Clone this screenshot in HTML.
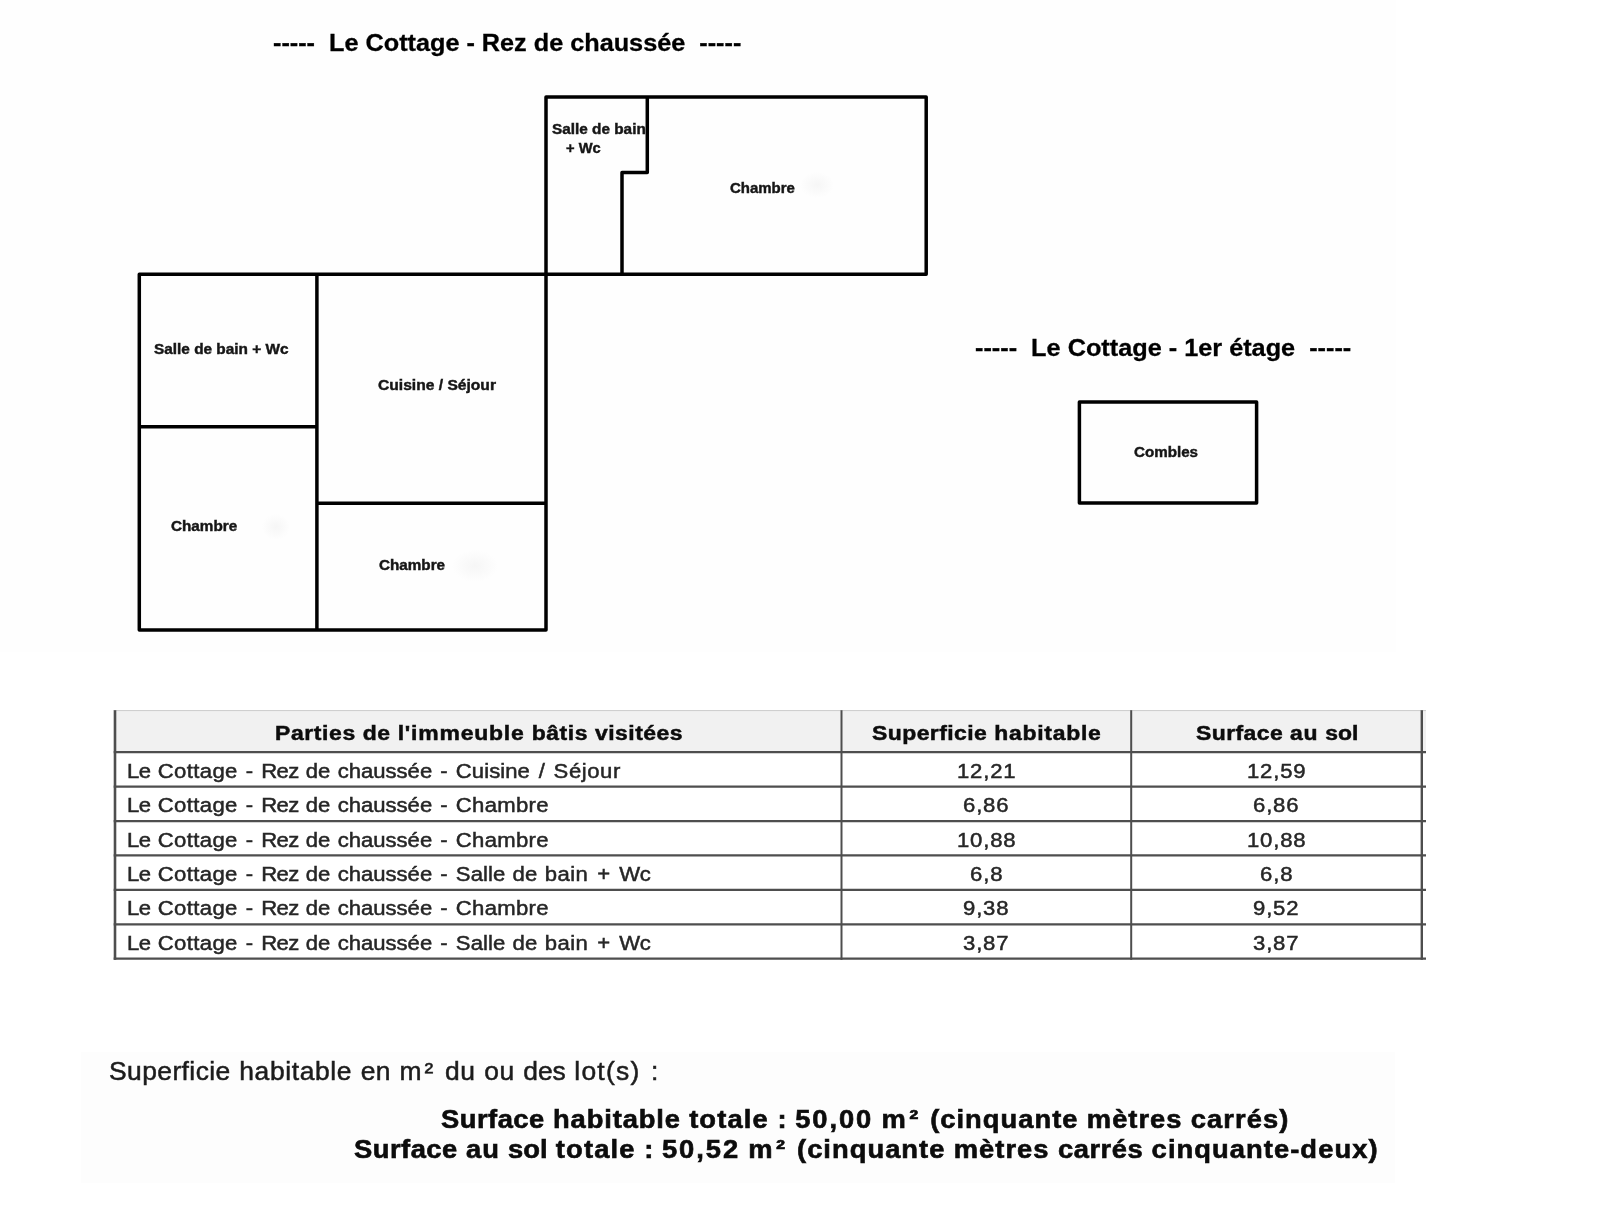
<!DOCTYPE html>
<html lang="fr"><head><meta charset="utf-8"><title>Le Cottage - Plan et superficies</title>
<style>
html,body{margin:0;padding:0;background:#fff;}
body{width:1600px;height:1230px;position:relative;overflow:hidden;font-family:"Liberation Sans",sans-serif;color:#000;font-kerning:none;}
#sheet{position:absolute;left:0;top:0;width:1600px;height:1230px;filter:blur(0.35px);will-change:transform;}
.t{position:absolute;white-space:pre;line-height:1;transform-origin:0 0;}
.b{position:absolute;}
.g{position:absolute;background:radial-gradient(closest-side,#f6f6f6,rgba(255,255,255,0));}
.plan{position:absolute;left:0;top:0;}
</style></head><body><div id="sheet">
<div class="b" style="left:0.00px;top:0.00px;width:1396.00px;height:652.00px;background:#fefefe"></div>
<div class="b" style="left:81.00px;top:1052.00px;width:1314.00px;height:131.00px;background:#fdfdfd"></div>
<svg class="plan" width="1600" height="700" viewBox="0 0 1600 700">
<g fill="none" stroke="#000" stroke-width="3.5" stroke-linecap="butt" stroke-linejoin="round">
<path d="M546 630 L546 96.9 L926.2 96.9 L926.2 274.3 L139.3 274.3 L139.3 630 Z"/>
<path d="M647.3 96.9 L647.3 172.5 L622 172.5 L622 274.3"/>
<path d="M316.9 274.3 L316.9 630"/>
<path d="M139.3 426.7 L316.9 426.7"/>
<path d="M316.9 503.3 L546 503.3"/>
<rect x="1079.4" y="401.9" width="177.2" height="101"/>
</g>
</svg>
<div class="g" style="left:452px;top:550px;width:46px;height:32px"></div>
<div class="g" style="left:262px;top:514px;width:28px;height:26px"></div>
<div class="g" style="left:800px;top:172px;width:34px;height:26px"></div>
<svg class="plan" width="1600" height="1230" viewBox="0 0 1600 1230">
<rect x="113.7" y="710.2" width="1312.3" height="42" fill="#f1f1f1"/>
<line x1="113.7" y1="710.6" x2="1426.0" y2="710.6" stroke="#cdcdcd" stroke-width="1"/>
<g stroke="#4e4e4e" fill="none">
<line x1="113.7" y1="752.20" x2="1426.0" y2="752.20" stroke-width="2.2"/>
<line x1="113.7" y1="786.62" x2="1426.0" y2="786.62" stroke-width="2.2"/>
<line x1="113.7" y1="821.04" x2="1426.0" y2="821.04" stroke-width="2.2"/>
<line x1="113.7" y1="855.46" x2="1426.0" y2="855.46" stroke-width="2.2"/>
<line x1="113.7" y1="889.88" x2="1426.0" y2="889.88" stroke-width="2.2"/>
<line x1="113.7" y1="924.30" x2="1426.0" y2="924.30" stroke-width="2.2"/>
<line x1="113.7" y1="958.72" x2="1426.0" y2="958.72" stroke-width="2.2"/>
<line x1="115.0" y1="710.2" x2="115.0" y2="959.82" stroke-width="2.6"/>
<line x1="841.5" y1="710.2" x2="841.5" y2="959.82" stroke-width="2.0"/>
<line x1="1131.2" y1="710.2" x2="1131.2" y2="959.82" stroke-width="2.0"/>
<line x1="1421.8" y1="710.2" x2="1421.8" y2="959.82" stroke-width="2.4"/>
</g></svg>
<span class="t" style="left:273.10px;top:31.47px;font-size:24.60px;font-weight:bold;transform:scaleX(1.0261);-webkit-text-stroke:0.3px #000;">-----  Le Cottage - Rez de chaussée  -----</span>
<span class="t" style="left:974.80px;top:335.97px;font-size:24.60px;font-weight:bold;transform:scaleX(1.0276);-webkit-text-stroke:0.3px #000;">-----  Le Cottage - 1er étage  -----</span>
<span class="t" style="left:551.60px;top:121.30px;font-size:15.00px;font-weight:bold;transform:scaleX(1.0226);color:#161616;-webkit-text-stroke:0.45px #161616;">Salle de bain</span>
<span class="t" style="left:566.10px;top:139.80px;font-size:15.00px;font-weight:bold;transform:scaleX(0.9784);color:#161616;-webkit-text-stroke:0.45px #161616;">+ Wc</span>
<span class="t" style="left:730.00px;top:180.00px;font-size:15.00px;font-weight:bold;transform:scaleX(0.9982);color:#161616;-webkit-text-stroke:0.45px #161616;">Chambre</span>
<span class="t" style="left:153.90px;top:340.80px;font-size:15.00px;font-weight:bold;transform:scaleX(1.0246);color:#161616;-webkit-text-stroke:0.45px #161616;">Salle de bain + Wc</span>
<span class="t" style="left:378.00px;top:376.80px;font-size:15.00px;font-weight:bold;transform:scaleX(1.0407);color:#161616;-webkit-text-stroke:0.45px #161616;">Cuisine / Séjour</span>
<span class="t" style="left:171.10px;top:517.70px;font-size:15.00px;font-weight:bold;transform:scaleX(1.0175);color:#161616;-webkit-text-stroke:0.45px #161616;">Chambre</span>
<span class="t" style="left:378.50px;top:557.30px;font-size:15.00px;font-weight:bold;transform:scaleX(1.0157);color:#161616;-webkit-text-stroke:0.45px #161616;">Chambre</span>
<span class="t" style="left:1133.60px;top:444.10px;font-size:15.00px;font-weight:bold;transform:scaleX(1.0112);color:#161616;-webkit-text-stroke:0.45px #161616;">Combles</span>
<span class="t" style="left:274.70px;top:722.07px;font-size:21.06px;font-weight:bold;transform:scaleX(1.0900);color:#0c0c0c;-webkit-text-stroke:0.5px #0c0c0c;word-spacing:0.0266em;"><span style="letter-spacing:0.0265em">Parties</span> <span style="letter-spacing:0.0236em">de</span> <span style="letter-spacing:0.0351em">l'immeuble</span> <span style="letter-spacing:0.0245em">bâtis</span> <span style="letter-spacing:0.0205em">visitées</span></span>
<span class="t" style="left:872.00px;top:722.07px;font-size:21.06px;font-weight:bold;transform:scaleX(1.0900);color:#0c0c0c;-webkit-text-stroke:0.5px #0c0c0c;word-spacing:0.0266em;"><span style="letter-spacing:0.0189em">Superficie</span> <span style="letter-spacing:0.0318em">habitable</span></span>
<span class="t" style="left:1195.60px;top:722.07px;font-size:21.06px;font-weight:bold;transform:scaleX(1.0900);color:#0c0c0c;-webkit-text-stroke:0.5px #0c0c0c;word-spacing:0.0266em;"><span style="letter-spacing:0.0183em">Surface</span> <span style="letter-spacing:0.0313em">au</span> <span style="letter-spacing:-0.0002em">sol</span></span>
<span class="t" style="left:126.80px;top:759.77px;font-size:21.06px;transform:scaleX(1.0500);color:#262626;-webkit-text-stroke:0.5px #262626;word-spacing:0.0472em;"><span style="letter-spacing:-0.0234em">Le</span> <span style="letter-spacing:0.0164em">Cottage</span> <span style="margin:0 0.0434em">-</span> <span style="letter-spacing:-0.0329em">Rez</span> <span style="letter-spacing:0.0073em">de</span> <span style="letter-spacing:-0.0011em">chaussée</span> <span style="margin:0 0.0434em">-</span> <span style="letter-spacing:0.0030em">Cuisine</span> <span style="margin:0 0.0710em">/</span> <span style="letter-spacing:0.0252em">Séjour</span></span>
<span class="t" style="left:957.30px;top:759.77px;font-size:21.06px;transform:scaleX(1.0500);color:#262626;-webkit-text-stroke:0.5px #262626;word-spacing:0.0472em;"><span style="letter-spacing:0.0370em">12,21</span></span>
<span class="t" style="left:1246.60px;top:759.77px;font-size:21.06px;transform:scaleX(1.0500);color:#262626;-webkit-text-stroke:0.5px #262626;word-spacing:0.0472em;"><span style="letter-spacing:0.0370em">12,59</span></span>
<span class="t" style="left:126.80px;top:794.19px;font-size:21.06px;transform:scaleX(1.0500);color:#262626;-webkit-text-stroke:0.5px #262626;word-spacing:0.0472em;"><span style="letter-spacing:-0.0234em">Le</span> <span style="letter-spacing:0.0164em">Cottage</span> <span style="margin:0 0.0434em">-</span> <span style="letter-spacing:-0.0329em">Rez</span> <span style="letter-spacing:0.0073em">de</span> <span style="letter-spacing:-0.0011em">chaussée</span> <span style="margin:0 0.0434em">-</span> <span style="letter-spacing:0.0134em">Chambre</span></span>
<span class="t" style="left:963.45px;top:794.19px;font-size:21.06px;transform:scaleX(1.0500);color:#262626;-webkit-text-stroke:0.5px #262626;word-spacing:0.0472em;"><span style="letter-spacing:0.0383em">6,86</span></span>
<span class="t" style="left:1253.25px;top:794.19px;font-size:21.06px;transform:scaleX(1.0500);color:#262626;-webkit-text-stroke:0.5px #262626;word-spacing:0.0472em;"><span style="letter-spacing:0.0383em">6,86</span></span>
<span class="t" style="left:126.80px;top:828.61px;font-size:21.06px;transform:scaleX(1.0500);color:#262626;-webkit-text-stroke:0.5px #262626;word-spacing:0.0472em;"><span style="letter-spacing:-0.0234em">Le</span> <span style="letter-spacing:0.0164em">Cottage</span> <span style="margin:0 0.0434em">-</span> <span style="letter-spacing:-0.0329em">Rez</span> <span style="letter-spacing:0.0073em">de</span> <span style="letter-spacing:-0.0011em">chaussée</span> <span style="margin:0 0.0434em">-</span> <span style="letter-spacing:0.0134em">Chambre</span></span>
<span class="t" style="left:957.30px;top:828.61px;font-size:21.06px;transform:scaleX(1.0500);color:#262626;-webkit-text-stroke:0.5px #262626;word-spacing:0.0472em;"><span style="letter-spacing:0.0370em">10,88</span></span>
<span class="t" style="left:1246.60px;top:828.61px;font-size:21.06px;transform:scaleX(1.0500);color:#262626;-webkit-text-stroke:0.5px #262626;word-spacing:0.0472em;"><span style="letter-spacing:0.0370em">10,88</span></span>
<span class="t" style="left:126.80px;top:863.03px;font-size:21.06px;transform:scaleX(1.0500);color:#262626;-webkit-text-stroke:0.5px #262626;word-spacing:0.0472em;"><span style="letter-spacing:-0.0234em">Le</span> <span style="letter-spacing:0.0164em">Cottage</span> <span style="margin:0 0.0434em">-</span> <span style="letter-spacing:-0.0329em">Rez</span> <span style="letter-spacing:0.0073em">de</span> <span style="letter-spacing:-0.0011em">chaussée</span> <span style="margin:0 0.0434em">-</span> <span style="letter-spacing:0.0044em">Salle</span> <span style="letter-spacing:0.0073em">de</span> <span style="letter-spacing:0.0199em">bain</span> <span style="margin:0 0.0864em">+</span> <span style="letter-spacing:-0.0239em">Wc</span></span>
<span class="t" style="left:969.85px;top:863.03px;font-size:21.06px;transform:scaleX(1.0500);color:#262626;-webkit-text-stroke:0.5px #262626;word-spacing:0.0472em;"><span style="letter-spacing:0.0406em">6,8</span></span>
<span class="t" style="left:1259.65px;top:863.03px;font-size:21.06px;transform:scaleX(1.0500);color:#262626;-webkit-text-stroke:0.5px #262626;word-spacing:0.0472em;"><span style="letter-spacing:0.0406em">6,8</span></span>
<span class="t" style="left:126.80px;top:897.45px;font-size:21.06px;transform:scaleX(1.0500);color:#262626;-webkit-text-stroke:0.5px #262626;word-spacing:0.0472em;"><span style="letter-spacing:-0.0234em">Le</span> <span style="letter-spacing:0.0164em">Cottage</span> <span style="margin:0 0.0434em">-</span> <span style="letter-spacing:-0.0329em">Rez</span> <span style="letter-spacing:0.0073em">de</span> <span style="letter-spacing:-0.0011em">chaussée</span> <span style="margin:0 0.0434em">-</span> <span style="letter-spacing:0.0134em">Chambre</span></span>
<span class="t" style="left:963.45px;top:897.45px;font-size:21.06px;transform:scaleX(1.0500);color:#262626;-webkit-text-stroke:0.5px #262626;word-spacing:0.0472em;"><span style="letter-spacing:0.0383em">9,38</span></span>
<span class="t" style="left:1253.25px;top:897.45px;font-size:21.06px;transform:scaleX(1.0500);color:#262626;-webkit-text-stroke:0.5px #262626;word-spacing:0.0472em;"><span style="letter-spacing:0.0383em">9,52</span></span>
<span class="t" style="left:126.80px;top:931.87px;font-size:21.06px;transform:scaleX(1.0500);color:#262626;-webkit-text-stroke:0.5px #262626;word-spacing:0.0472em;"><span style="letter-spacing:-0.0234em">Le</span> <span style="letter-spacing:0.0164em">Cottage</span> <span style="margin:0 0.0434em">-</span> <span style="letter-spacing:-0.0329em">Rez</span> <span style="letter-spacing:0.0073em">de</span> <span style="letter-spacing:-0.0011em">chaussée</span> <span style="margin:0 0.0434em">-</span> <span style="letter-spacing:0.0044em">Salle</span> <span style="letter-spacing:0.0073em">de</span> <span style="letter-spacing:0.0199em">bain</span> <span style="margin:0 0.0864em">+</span> <span style="letter-spacing:-0.0239em">Wc</span></span>
<span class="t" style="left:963.45px;top:931.87px;font-size:21.06px;transform:scaleX(1.0500);color:#262626;-webkit-text-stroke:0.5px #262626;word-spacing:0.0472em;"><span style="letter-spacing:0.0383em">3,87</span></span>
<span class="t" style="left:1253.25px;top:931.87px;font-size:21.06px;transform:scaleX(1.0500);color:#262626;-webkit-text-stroke:0.5px #262626;word-spacing:0.0472em;"><span style="letter-spacing:0.0383em">3,87</span></span>
<span class="t" style="left:108.80px;top:1059.28px;font-size:25.18px;transform:scaleX(1.0500);color:#1c1c1c;-webkit-text-stroke:0.5px #1c1c1c;word-spacing:0.0472em;"><span style="letter-spacing:0.0157em">Superficie</span> <span style="letter-spacing:0.0235em">habitable</span> <span style="letter-spacing:0.0118em">en</span> <span style="letter-spacing:0.1172em">m²</span> <span style="letter-spacing:0.0244em">du</span> <span style="letter-spacing:0.0170em">ou</span> <span style="letter-spacing:-0.0012em">des</span> <span style="letter-spacing:0.0464em">lot(s)</span> <span style="margin:0 0.0710em">:</span></span>
<span class="t" style="left:441.40px;top:1107.47px;font-size:25.07px;font-weight:bold;transform:scaleX(1.0900);color:#0c0c0c;-webkit-text-stroke:0.6px #0c0c0c;word-spacing:0.0266em;"><span style="letter-spacing:0.0183em">Surface</span> <span style="letter-spacing:0.0318em">habitable</span> <span style="letter-spacing:0.0411em">totale</span> <span style="margin:0 0.0126em">:</span> <span style="letter-spacing:0.0705em">50,00</span> <span style="letter-spacing:0.1262em">m²</span> <span style="letter-spacing:0.0375em">(cinquante</span> <span style="letter-spacing:0.0372em">mètres</span> <span style="letter-spacing:0.0388em">carrés)</span></span>
<span class="t" style="left:353.80px;top:1136.76px;font-size:25.08px;font-weight:bold;transform:scaleX(1.0900);color:#0c0c0c;-webkit-text-stroke:0.6px #0c0c0c;word-spacing:0.0266em;"><span style="letter-spacing:0.0183em">Surface</span> <span style="letter-spacing:0.0313em">au</span> <span style="letter-spacing:-0.0002em">sol</span> <span style="letter-spacing:0.0411em">totale</span> <span style="margin:0 0.0126em">:</span> <span style="letter-spacing:0.0705em">50,52</span> <span style="letter-spacing:0.1262em">m²</span> <span style="letter-spacing:0.0375em">(cinquante</span> <span style="letter-spacing:0.0372em">mètres</span> <span style="letter-spacing:0.0202em">carrés</span> <span style="letter-spacing:0.0386em">cinquante-deux)</span></span>
</div></body></html>
